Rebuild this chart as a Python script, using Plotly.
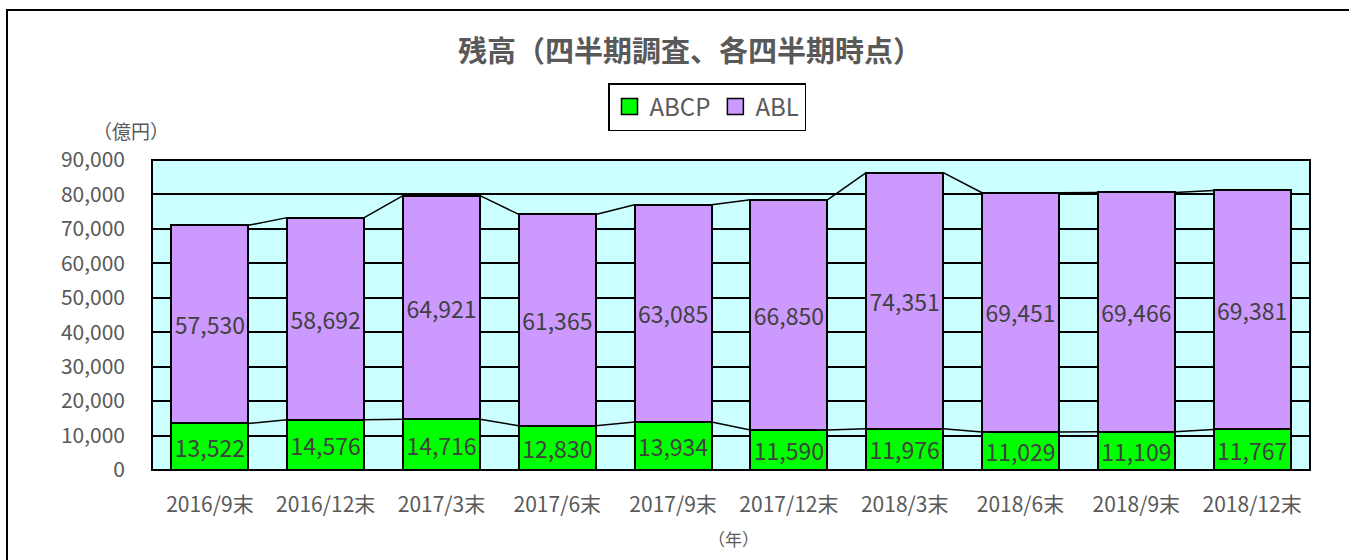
import plotly.graph_objects as go

categories = ["2016/9末", "2016/12末", "2017/3末", "2017/6末", "2017/9末",
              "2017/12末", "2018/3末", "2018/6末", "2018/9末", "2018/12末"]
abcp = [13522, 14576, 14716, 12830, 13934, 11590, 11976, 11029, 11109, 11767]
abl = [57530, 58692, 64921, 61365, 63085, 66850, 74351, 69451, 69466, 69381]
y_ticks = [0, 10000, 20000, 30000, 40000, 50000, 60000, 70000, 80000, 90000]

FONT = "Noto Sans CJK JP"
TXT = "#595959"
LBL = "#404040"
BW = 0.665
C_ABCP = "#00FF00"
C_ABL = "#CC99FF"

xs = list(range(len(categories)))
tot = [a + b for a, b in zip(abcp, abl)]

fig = go.Figure()
fig.add_trace(go.Bar(
    x=xs, y=abcp, name="ABCP", width=BW, showlegend=False,
    marker=dict(color=C_ABCP, line=dict(color="black", width=2)),
    text=[f"{v:,}" for v in abcp], textposition="inside", insidetextanchor="middle",
    textangle=0, constraintext="none",
    textfont=dict(family=FONT, size=23, color=LBL),
))
fig.add_trace(go.Bar(
    x=xs, y=abl, name="ABL", width=BW, showlegend=False,
    marker=dict(color=C_ABL, line=dict(color="black", width=2)),
    text=[f"{v:,}" for v in abl], textposition="inside", insidetextanchor="middle",
    textangle=0, constraintext="none",
    textfont=dict(family=FONT, size=23, color=LBL),
))

# series lines connecting bar tops
for series in (abcp, tot):
    lx, ly = [], []
    for i in range(len(series) - 1):
        lx += [xs[i] + BW / 2, xs[i + 1] - BW / 2, None]
        ly += [series[i], series[i + 1], None]
    fig.add_trace(go.Scatter(x=lx, y=ly, mode="lines", showlegend=False,
                             hoverinfo="skip", line=dict(color="black", width=1.5)))

# legend proxies with larger square swatches
for nm, col in (("ABCP", C_ABCP), ("ABL", C_ABL)):
    fig.add_trace(go.Scatter(x=[None], y=[None], mode="markers", name=nm,
                             marker=dict(symbol="square", size=16, color=col,
                                         line=dict(color="black", width=1.5))))

W, H = 1349, 560
L, R, T, B = 152, 39, 160, 90
pw, ph = W - L - R, H - T - B

def px(x):
    return (x - L) / pw

def py(y):
    return (H - B - y) / ph

fig.update_layout(
    width=W, height=H,
    margin=dict(l=L, r=R, t=T, b=B),
    barmode="stack", bargap=0.335,
    paper_bgcolor="white", plot_bgcolor="#CCFFFF",
    font=dict(family=FONT, color=TXT),
    title=dict(text="<b>残高（四半期調査、各四半期時点）</b>", x=690 / W, xanchor="center",
               y=1 - 52 / H, yanchor="middle", font=dict(size=29, color=TXT, family=FONT)),
    legend=dict(orientation="h", x=px(707), xanchor="center", y=py(83), yanchor="top",
                bordercolor="black", borderwidth=1.5, bgcolor="white",
                font=dict(size=24, color=TXT, family=FONT), traceorder="normal",
                itemwidth=30, itemsizing="trace"),
    xaxis=dict(tickmode="array", tickvals=xs, ticktext=categories, range=[-0.5, len(xs) - 0.5],
               showgrid=False, zeroline=False, showline=False, ticks="",
               ticklabelstandoff=20,
               tickfont=dict(size=21, color=TXT, family=FONT)),
    yaxis=dict(range=[0, 90000], tickmode="array", tickvals=y_ticks,
               ticktext=[f"{v:,}" for v in y_ticks],
               showgrid=True, gridcolor="black", gridwidth=1.5, zeroline=False,
               showline=False, ticks="", ticklabelstandoff=26,
               tickfont=dict(size=21, color=TXT, family=FONT)),
    shapes=[
        dict(type="rect", xref="paper", yref="paper", x0=0, x1=1, y0=0, y1=1,
             line=dict(color="black", width=2), layer="above"),
        dict(type="rect", xref="paper", yref="paper", x0=px(7), x1=px(1400), y0=py(600), y1=py(10),
             line=dict(color="black", width=2)),
    ],
    annotations=[
        dict(text="（億円）", xref="paper", yref="paper", x=px(131), y=py(130),
             xanchor="center", yanchor="middle",
             showarrow=False, font=dict(size=19, color=TXT, family=FONT)),
        dict(text="（年）", xref="paper", yref="paper", x=px(733), y=py(538),
             xanchor="center", yanchor="middle",
             showarrow=False, font=dict(size=17, color=TXT, family=FONT)),
    ],
)

fig.write_html("out.html")
